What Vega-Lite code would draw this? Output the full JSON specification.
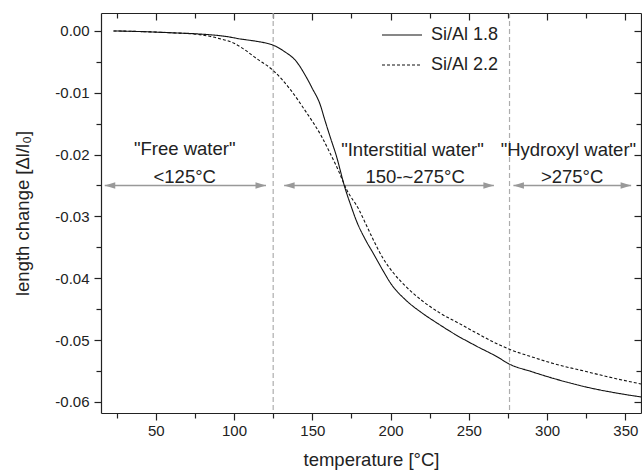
{
  "$schema": "https://vega.github.io/schema/vega-lite/v6.json",
  "autosize": "none",
  "width": 540,
  "height": 400,
  "padding": {"left": 101, "top": 13, "right": 1, "bottom": 60},
  "background": "white",
  "config": {
    "view": {"stroke": null},
    "font": "Liberation Sans",
    "axis": {"grid": false, "domainColor": "#222", "domainWidth": 1.2, "tickColor": "#222", "tickWidth": 1.2, "labelFont": "Liberation Sans", "titleFont": "Liberation Sans", "labelColor": "#222", "titleColor": "#222", "labelFontSize": 15, "titleFontSize": 18.5, "titleFontWeight": "normal"}
  },
  "datasets": {
    "curves": [
      {"T": 23, "v": 0, "s": "Si/Al 1.8"},
      {"T": 40, "v": -0.0001, "s": "Si/Al 1.8"},
      {"T": 60, "v": -0.0003, "s": "Si/Al 1.8"},
      {"T": 78, "v": -0.0005, "s": "Si/Al 1.8"},
      {"T": 95, "v": -0.0009, "s": "Si/Al 1.8"},
      {"T": 104, "v": -0.0013, "s": "Si/Al 1.8"},
      {"T": 115, "v": -0.0017, "s": "Si/Al 1.8"},
      {"T": 121, "v": -0.002, "s": "Si/Al 1.8"},
      {"T": 125, "v": -0.0023, "s": "Si/Al 1.8"},
      {"T": 132, "v": -0.0033, "s": "Si/Al 1.8"},
      {"T": 140, "v": -0.005, "s": "Si/Al 1.8"},
      {"T": 146, "v": -0.0074, "s": "Si/Al 1.8"},
      {"T": 150, "v": -0.0093, "s": "Si/Al 1.8"},
      {"T": 155, "v": -0.0119, "s": "Si/Al 1.8"},
      {"T": 158, "v": -0.0144, "s": "Si/Al 1.8"},
      {"T": 162, "v": -0.0176, "s": "Si/Al 1.8"},
      {"T": 165, "v": -0.0199, "s": "Si/Al 1.8"},
      {"T": 171, "v": -0.0255, "s": "Si/Al 1.8"},
      {"T": 175, "v": -0.0285, "s": "Si/Al 1.8"},
      {"T": 178, "v": -0.0306, "s": "Si/Al 1.8"},
      {"T": 184, "v": -0.0338, "s": "Si/Al 1.8"},
      {"T": 189, "v": -0.036, "s": "Si/Al 1.8"},
      {"T": 195, "v": -0.0387, "s": "Si/Al 1.8"},
      {"T": 200, "v": -0.0408, "s": "Si/Al 1.8"},
      {"T": 210, "v": -0.0436, "s": "Si/Al 1.8"},
      {"T": 220, "v": -0.0456, "s": "Si/Al 1.8"},
      {"T": 230, "v": -0.0473, "s": "Si/Al 1.8"},
      {"T": 242, "v": -0.0492, "s": "Si/Al 1.8"},
      {"T": 255, "v": -0.051, "s": "Si/Al 1.8"},
      {"T": 268, "v": -0.0527, "s": "Si/Al 1.8"},
      {"T": 276, "v": -0.0539, "s": "Si/Al 1.8"},
      {"T": 290, "v": -0.0551, "s": "Si/Al 1.8"},
      {"T": 304, "v": -0.0562, "s": "Si/Al 1.8"},
      {"T": 325, "v": -0.0576, "s": "Si/Al 1.8"},
      {"T": 345, "v": -0.0586, "s": "Si/Al 1.8"},
      {"T": 360, "v": -0.0592, "s": "Si/Al 1.8"},
      {"T": 23, "v": 0, "s": "Si/Al 2.2"},
      {"T": 40, "v": -0.0001, "s": "Si/Al 2.2"},
      {"T": 60, "v": -0.0003, "s": "Si/Al 2.2"},
      {"T": 78, "v": -0.0006, "s": "Si/Al 2.2"},
      {"T": 90, "v": -0.0012, "s": "Si/Al 2.2"},
      {"T": 100, "v": -0.002, "s": "Si/Al 2.2"},
      {"T": 106, "v": -0.0029, "s": "Si/Al 2.2"},
      {"T": 114, "v": -0.0044, "s": "Si/Al 2.2"},
      {"T": 125, "v": -0.0064, "s": "Si/Al 2.2"},
      {"T": 136, "v": -0.0095, "s": "Si/Al 2.2"},
      {"T": 146, "v": -0.0131, "s": "Si/Al 2.2"},
      {"T": 151, "v": -0.0150, "s": "Si/Al 2.2"},
      {"T": 156, "v": -0.0171, "s": "Si/Al 2.2"},
      {"T": 161, "v": -0.0196, "s": "Si/Al 2.2"},
      {"T": 166, "v": -0.0222, "s": "Si/Al 2.2"},
      {"T": 172, "v": -0.0257, "s": "Si/Al 2.2"},
      {"T": 180, "v": -0.029, "s": "Si/Al 2.2"},
      {"T": 183, "v": -0.0306, "s": "Si/Al 2.2"},
      {"T": 189, "v": -0.0338, "s": "Si/Al 2.2"},
      {"T": 195, "v": -0.0367, "s": "Si/Al 2.2"},
      {"T": 202, "v": -0.0392, "s": "Si/Al 2.2"},
      {"T": 210, "v": -0.0414, "s": "Si/Al 2.2"},
      {"T": 220, "v": -0.0436, "s": "Si/Al 2.2"},
      {"T": 232, "v": -0.0457, "s": "Si/Al 2.2"},
      {"T": 243, "v": -0.0472, "s": "Si/Al 2.2"},
      {"T": 253, "v": -0.0486, "s": "Si/Al 2.2"},
      {"T": 268, "v": -0.0506, "s": "Si/Al 2.2"},
      {"T": 276, "v": -0.0515, "s": "Si/Al 2.2"},
      {"T": 290, "v": -0.0527, "s": "Si/Al 2.2"},
      {"T": 304, "v": -0.0538, "s": "Si/Al 2.2"},
      {"T": 325, "v": -0.0551, "s": "Si/Al 2.2"},
      {"T": 345, "v": -0.0563, "s": "Si/Al 2.2"},
      {"T": 360, "v": -0.0571, "s": "Si/Al 2.2"}
    ],
    "vlines": [{"T": 125}, {"T": 276}],
    "arrows": [
      {"T": 17.4, "T2": 120.4, "v": -0.025},
      {"T": 132, "T2": 266, "v": -0.025},
      {"T": 278.5, "T2": 353.7, "v": -0.025}
    ],
    "heads": [
      {"T": 17.4, "v": -0.025, "dir": "L"},
      {"T": 120.4, "v": -0.025, "dir": "R"},
      {"T": 132, "v": -0.025, "dir": "L"},
      {"T": 266, "v": -0.025, "dir": "R"},
      {"T": 278.5, "v": -0.025, "dir": "L"},
      {"T": 353.7, "v": -0.025, "dir": "R"}
    ],
    "labels": [
      {"T": 68.5, "v": -0.0191, "text": "\"Free water\""},
      {"T": 68.5, "v": -0.0236, "text": "<125°C"},
      {"T": 214, "v": -0.0193, "text": "\"Interstitial water\""},
      {"T": 215.7, "v": -0.0236, "text": "150-~275°C"},
      {"T": 313.6, "v": -0.0193, "text": "\"Hydroxyl water\""},
      {"T": 316, "v": -0.0236, "text": ">275°C"}
    ]
  },
  "resolve": {"axis": {"x": "independent", "y": "independent"}},
  "layer": [
    {
      "data": {"name": "vlines"},
      "mark": {"type": "rule", "color": "#adadad", "strokeWidth": 1.2, "strokeDash": [5, 3]},
      "encoding": {
        "x": {"field": "T", "type": "quantitative", "scale": {"domain": [15, 360], "nice": false, "zero": false}, "axis": null}
      }
    },
    {
      "data": {"name": "arrows"},
      "mark": {"type": "rule", "color": "#999999", "strokeWidth": 1.5},
      "encoding": {
        "x": {"field": "T", "type": "quantitative", "scale": {"domain": [15, 360], "nice": false, "zero": false},
          "axis": {"orient": "top", "title": null, "labels": false, "values": [25, 50, 75, 100, 125, 150, 175, 200, 225, 250, 275, 300, 325, 350],
            "tickSize": {"condition": {"test": "datum.value % 50 == 0", "value": -7}, "value": -5}}},
        "x2": {"field": "T2"},
        "y": {"field": "v", "type": "quantitative", "scale": {"domain": [-0.0618, 0.0029], "nice": false, "zero": false},
          "axis": {"orient": "right", "title": null, "labels": false, "values": [-0.06, -0.055, -0.05, -0.045, -0.04, -0.035, -0.03, -0.025, -0.02, -0.015, -0.01, -0.005, 0],
            "tickSize": {"condition": {"test": "abs(datum.value*100 - round(datum.value*100)) < 1e-6", "value": -7}, "value": -5}}}
      }
    },
    {
      "data": {"name": "heads"},
      "mark": {"type": "point", "filled": true, "color": "#999999", "opacity": 1, "size": 110},
      "encoding": {
        "x": {"field": "T", "type": "quantitative", "axis": null},
        "y": {"field": "v", "type": "quantitative", "axis": null},
        "shape": {"field": "dir", "type": "nominal", "legend": null,
          "scale": {"domain": ["L", "R"], "range": ["M0,0L2,-0.6L2,0.6Z", "M0,0L-2,-0.6L-2,0.6Z"]}}
      }
    },
    {
      "data": {"name": "labels"},
      "mark": {"type": "text", "fontSize": 18.5, "font": "Liberation Sans", "color": "#222", "baseline": "middle", "align": "center"},
      "encoding": {
        "x": {"field": "T", "type": "quantitative", "axis": null},
        "y": {"field": "v", "type": "quantitative", "axis": null},
        "text": {"field": "text"}
      }
    },
    {
      "data": {"name": "curves"},
      "mark": {"type": "line", "color": "#111", "strokeWidth": 1.1, "interpolate": "monotone"},
      "encoding": {
        "x": {"field": "T", "type": "quantitative",
          "axis": {"title": "temperature [°C]", "values": [25, 50, 75, 100, 125, 150, 175, 200, 225, 250, 275, 300, 325, 350],
            "labelExpr": "datum.value % 50 == 0 ? datum.label : ''", "labelPadding": 3, "titlePadding": 12,
            "tickSize": {"condition": {"test": "datum.value % 50 == 0", "value": 7}, "value": 5}}},
        "y": {"field": "v", "type": "quantitative",
          "axis": {"title": "length change [Δl/l₀]", "values": [-0.06, -0.055, -0.05, -0.045, -0.04, -0.035, -0.03, -0.025, -0.02, -0.015, -0.01, -0.005, 0],
            "labelExpr": "abs(datum.value*100 - round(datum.value*100)) < 1e-6 ? replace(format(datum.value, '.2f'), '\u2212', '-') : ''",
            "labelPadding": 5, "titlePadding": 22,
            "tickSize": {"condition": {"test": "abs(datum.value*100 - round(datum.value*100)) < 1e-6", "value": 7}, "value": 5}}},
        "strokeDash": {"field": "s", "type": "nominal",
          "scale": {"domain": ["Si/Al 1.8", "Si/Al 2.2"], "range": [[1, 0], [3, 2]]},
          "legend": {"title": null, "orient": "none", "legendX": 280, "legendY": 1, "symbolType": "stroke", "symbolSize": 1600,
            "symbolStrokeColor": "#111", "symbolStrokeWidth": 1.1, "labelFontSize": 18, "labelFont": "Liberation Sans", "labelColor": "#222", "labelOffset": 8, "rowPadding": -2}}
      }
    }
  ]
}
